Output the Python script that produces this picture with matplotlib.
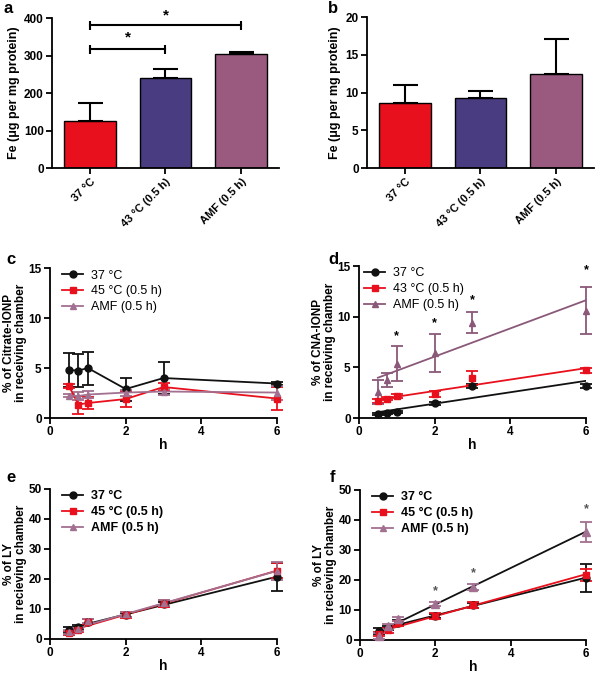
import numpy as np
import matplotlib
matplotlib.use('Agg')
import matplotlib.pyplot as plt
from matplotlib.lines import Line2D

plt.rcParams['font.family'] = ['Liberation Sans', 'DejaVu Sans']
plt.rcParams['font.weight'] = 'bold'
plt.rcParams['axes.labelweight'] = 'bold'

# ---- datos de barras (a, b) ----
grupos = ['37 °C', '43 °C (0.5 h)', 'AMF (0.5 h)']
fe_a = [125, 240, 303]
fe_a_err = [48, 25, 6]
fe_b = [8.6, 9.3, 12.4]
fe_b_err = [2.4, 0.9, 4.7]
colores_barras = ['#e8101c', '#4a3c80', '#9a5a80']

# ---- tiempos (h) ----
horas = [0.5, 0.75, 1, 2, 3, 6]

# ---- panel c: Citrate-IONP ----
c_37 = [4.8, 4.75, 5.0, 2.9, 4.0, 3.45]
c_37_err = [1.7, 1.65, 1.65, 1.15, 1.6, 0.15]
c_45 = [3.2, 1.35, 1.5, 1.9, 3.1, 1.95]
c_45_err = [0.2, 0.9, 0.6, 0.8, 0.4, 1.15]
c_amf = [2.25, 2.2, 2.35, 2.55, 2.65, 2.55]
c_amf_err = [0.15, 0.4, 0.35, 0.3, 0.3, 0.7]

# ---- panel d: CNA-IONP ----
d_37 = [0.36, 0.5, 0.6, 1.45, 3.13, 3.17]
d_37_err = [0.1, 0.1, 0.1, 0.15, 0.2, 0.2]
d_43 = [1.68, 1.9, 2.18, 2.34, 3.93, 4.69]
d_43_err = [0.15, 0.15, 0.2, 0.3, 0.7, 0.2]
d_amf = [2.57, 3.73, 5.38, 6.43, 9.4, 10.6]
d_amf_err = [1.2, 0.7, 1.75, 1.85, 1.05, 2.3]
d_estrellas_x = [1, 2, 3, 6]
d_estrellas_y = [8.1, 9.4, 11.6, 14.6]

# ---- paneles e, f: LY ----
e_37 = [3.1, 4.0, 5.8, 8.0, 11.5, 20.7]
e_37_err = [1.0, 0.8, 0.8, 0.8, 0.8, 4.7]
e_45 = [1.9, 3.0, 5.8, 8.0, 11.8, 22.7]
e_45_err = [0.7, 0.8, 0.8, 1.0, 1.2, 2.5]
e_amf = [2.4, 3.2, 6.0, 8.2, 12.0, 22.6]
e_amf_err = [0.6, 0.6, 0.8, 0.8, 1.0, 3.0]

f_37 = [3.1, 4.0, 5.8, 8.0, 11.5, 20.7]
f_37_err = [1.0, 0.8, 0.8, 0.8, 0.8, 4.7]
f_45 = [2.0, 3.2, 5.5, 8.0, 11.5, 21.8]
f_45_err = [0.7, 0.9, 0.8, 1.0, 1.0, 2.0]
f_amf = [1.3, 4.5, 7.0, 12.0, 17.8, 36.0]
f_amf_err = [1.0, 0.8, 0.8, 0.8, 1.0, 3.3]
f_estrellas_x = [2, 3, 6]
f_estrellas_y = [16.3, 22.3, 43.7]

ROJO = '#e8101c'
NEGRO = '#111111'
MORADO = '#a27090'
MORADO_D = '#8a5878'

fig = plt.figure(figsize=(5.97, 6.75), dpi=100)


def estilo(ax):
    for s in ['top', 'right']:
        ax.spines[s].set_visible(False)
    for s in ['left', 'bottom']:
        ax.spines[s].set_linewidth(1.3)
    ax.tick_params(width=1.3, length=4, labelsize=8.5, pad=2)
    for t in ax.get_xticklabels() + ax.get_yticklabels():
        t.set_fontweight('bold')


def barras(ax, vals, errs, ylim, yticks):
    x = np.arange(len(vals))
    ax.bar(x, vals, width=0.68, color=colores_barras, edgecolor='black', linewidth=1)
    ax.errorbar(x, vals, yerr=[np.zeros(len(errs)), errs], fmt='none',
                ecolor='black', elinewidth=1.5, capsize=9, capthick=1.5)
    ax.set_xlim(-0.5, 2.5)
    ax.set_ylim(*ylim)
    ax.set_yticks(yticks)
    ax.set_xticks(x)
    ax.set_xticklabels(grupos, rotation=45, ha='right', rotation_mode='anchor')
    ax.set_ylabel('Fe (μg per mg protein)', fontsize=9, labelpad=3)
    estilo(ax)
    for t in ax.get_xticklabels():
        t.set_fontsize(8)


ax_a = fig.add_axes([0.0871, 0.7511, 0.3802, 0.2222])
barras(ax_a, fe_a, fe_a_err, (0, 400), [0, 100, 200, 300, 400])
# corchetes de significancia
for x0, x1, yb, ys in [(0, 1, 317, 347), (0, 2, 381, 408)]:
    ax_a.plot([x0, x1], [yb, yb], color='black', lw=1.5, clip_on=False)
    ax_a.vlines([x0, x1], yb - 12, yb + 12, color='black', lw=1.5, clip_on=False)
    ax_a.text((x0 + x1) / 2, ys, '*', ha='center', va='center', fontsize=11, clip_on=False)

ax_b = fig.add_axes([0.6147, 0.7511, 0.3802, 0.2237])
barras(ax_b, fe_b, fe_b_err, (0, 20), [0, 5, 10, 15, 20])


def puntos(ax, y, err, color, marker, ms, line=True):
    ax.errorbar(horas, y, yerr=err, marker=marker, linestyle='-' if line else 'none',
                color=color, ms=ms, lw=1.3, elinewidth=1.3, capsize=4,
                capthick=1.3, clip_on=False, zorder=3)


def ajuste(ax, y, color):
    m, b = np.polyfit(horas, y, 1)
    xs = np.array([horas[0], horas[-1]])
    ax.plot(xs, m * xs + b, color=color, lw=1.3, zorder=2)


def ejes_tiempo(ax, ylim, yticks, ylabel):
    ax.set_xlim(0, 6)
    ax.set_xticks([0, 2, 4, 6])
    ax.set_ylim(*ylim)
    ax.set_yticks(yticks)
    ax.set_xlabel('h', fontsize=10, labelpad=0)
    ax.set_ylabel(ylabel, fontsize=8.5, linespacing=1.05, labelpad=1)
    estilo(ax)


def leyenda(ax, etiquetas, colores, peso, x0=0.02):
    handles = [Line2D([], [], color=c, marker=m, ms=ms, lw=1.3)
               for c, m, ms in zip(colores, ['o', 's', '^'], [5, 5, 5])]
    ax.legend(handles, etiquetas, loc='upper left', frameon=False,
              prop={'size': 9, 'weight': peso}, handlelength=1.7, handletextpad=0.6,
              borderaxespad=0.2, labelspacing=0.3, bbox_to_anchor=(x0, 1.04))


# ---- c ----
ax_c = fig.add_axes([0.0838, 0.3807, 0.3802, 0.2222])
puntos(ax_c, c_37, c_37_err, NEGRO, 'o', 5)
puntos(ax_c, c_45, c_45_err, ROJO, 's', 5)
puntos(ax_c, c_amf, c_amf_err, MORADO, '^', 5)
ejes_tiempo(ax_c, (0, 15), [0, 5, 10, 15], '% of Citrate-IONP\nin receiving chamber')
leyenda(ax_c, ['37 °C', '45 °C (0.5 h)', 'AMF (0.5 h)'], [NEGRO, ROJO, MORADO], 'normal')

# ---- d ----
ax_d = fig.add_axes([0.6013, 0.3807, 0.3802, 0.2252])
puntos(ax_d, d_37, d_37_err, NEGRO, 'o', 5, line=False)
puntos(ax_d, d_43, d_43_err, ROJO, 's', 5, line=False)
puntos(ax_d, d_amf, d_amf_err, MORADO_D, '^', 5, line=False)
ajuste(ax_d, d_37, NEGRO)
ajuste(ax_d, d_43, ROJO)
ajuste(ax_d, d_amf, MORADO_D)
for x, y in zip(d_estrellas_x, d_estrellas_y):
    ax_d.text(x, y, '*', ha='center', va='center', fontsize=9, clip_on=False)
ejes_tiempo(ax_d, (0, 15), [0, 5, 10, 15], '% of CNA-IONP\nin receiving chamber')
leyenda(ax_d, ['37 °C', '43 °C (0.5 h)', 'AMF (0.5 h)'], [NEGRO, ROJO, MORADO_D], 'normal', x0=-0.01)

# ---- e ----
ax_e = fig.add_axes([0.0838, 0.0534, 0.3802, 0.2222])
puntos(ax_e, e_37, e_37_err, NEGRO, 'o', 5, line=False)
puntos(ax_e, e_45, e_45_err, ROJO, 's', 5, line=False)
puntos(ax_e, e_amf, e_amf_err, MORADO, '^', 5, line=False)
ajuste(ax_e, e_37, NEGRO)
ajuste(ax_e, e_45, ROJO)
ajuste(ax_e, e_amf, MORADO)
ejes_tiempo(ax_e, (0, 50), [0, 10, 20, 30, 40, 50], '% of LY\nin recieving chamber')
leyenda(ax_e, ['37 °C', '45 °C (0.5 h)', 'AMF (0.5 h)'], [NEGRO, ROJO, MORADO], 'bold')

# ---- f ----
ax_f = fig.add_axes([0.603, 0.0519, 0.3785, 0.2222])
puntos(ax_f, f_37, f_37_err, NEGRO, 'o', 5, line=False)
puntos(ax_f, f_45, f_45_err, ROJO, 's', 5, line=False)
puntos(ax_f, f_amf, f_amf_err, MORADO, '^', 6, line=False)
ajuste(ax_f, f_37, NEGRO)
ajuste(ax_f, f_45, ROJO)
ajuste(ax_f, f_amf, NEGRO)
for x, y in zip(f_estrellas_x, f_estrellas_y):
    ax_f.text(x, y, '*', ha='center', va='center', fontsize=9, color='#555555', clip_on=False)
ejes_tiempo(ax_f, (0, 50), [0, 10, 20, 30, 40, 50], '% of LY\nin recieving chamber')
leyenda(ax_f, ['37 °C', '45 °C (0.5 h)', 'AMF (0.5 h)'], [NEGRO, ROJO, MORADO], 'bold')

# letras de panel
for letra, x, y in [('a', 4, 13), ('b', 328, 13), ('c', 6, 264), ('d', 328, 264),
                    ('e', 6, 482), ('f', 330, 482)]:
    fig.text(x / 597, 1 - y / 675, letra, fontsize=12, fontweight='bold')

fig.savefig('out.png', dpi=100)
